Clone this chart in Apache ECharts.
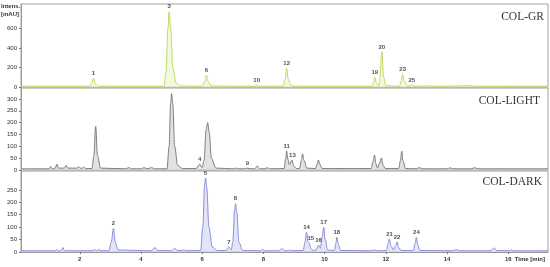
<!DOCTYPE html>
<html><head><meta charset="utf-8">
<script src="https://cdn.jsdelivr.net/npm/echarts@6/dist/echarts.min.js"></script>
<style>html,body{margin:0;padding:0;background:#fff}#c{width:550px;height:267px}</style>
</head><body><div id="c"></div>
<script>
// ---- data ----
const panelNames = ['COL-GR', 'COL-LIGHT', 'COL-DARK'];
const xTicks = [2, 4, 6, 8, 10, 12, 14, 16];
const yTicksGR = [0, 200, 400, 600];
const yTicksLIGHT = [0, 50, 100, 150, 200, 250, 300];
const yTicksDARK = [0, 50, 100, 150, 200, 250];

const traceGR = [[0.08,8],[2.3,8],[2.38,30],[2.45,92],[2.52,30],[2.62,8],
 [4.75,8],[4.82,150],[4.88,600],[4.92,770],[4.97,600],[5.04,200],[5.15,40],[5.3,10],
 [6.0,8],[6.08,50],[6.14,122],[6.2,50],[6.3,10],
 [7.7,8],[7.78,18],[7.86,8],
 [8.65,8],[8.71,80],[8.76,195],[8.81,80],[8.9,15],[9.0,8],
 [11.55,8],[11.6,50],[11.64,100],[11.69,40],[11.76,10],[11.8,60],[11.87,360],[11.93,100],[12.0,12],
 [12.45,8],[12.5,60],[12.55,130],[12.6,60],[12.7,12],
 [12.8,8],[12.85,22],[12.92,8],[13.4,12],[13.5,8],[14.8,12],[14.9,8],[17.3,8]];

const traceLIGHT = [[0.08,5],[1.0,5],[1.05,15],[1.1,5],[1.2,8],[1.25,25],[1.3,8],[1.5,8],[1.55,20],[1.62,8],
 [1.9,8],[1.95,14],[2.02,8],[2.1,8],[2.15,12],[2.2,6],
 [2.4,6],[2.46,60],[2.52,185],[2.58,60],[2.68,8],
 [3.5,5],[3.6,10],[3.7,5],[4.0,5],[4.1,10],[4.2,5],[4.35,10],[4.45,5],
 [4.85,5],[4.92,100],[4.97,280],[5.0,322],[5.04,280],[5.1,100],[5.2,20],[5.35,6],
 [5.8,6],[5.92,25],[6.0,10],[6.06,40],[6.13,170],[6.18,200],[6.23,160],[6.3,50],[6.45,8],
 [7.0,5],[7.1,8],[7.2,5],[7.35,5],[7.48,8],[7.58,5],[7.72,5],[7.8,17],[7.88,5],[8.05,5],[8.12,10],[8.2,5],
 [8.68,6],[8.73,50],[8.76,80],[8.8,45],[8.85,22],[8.93,42],[9.0,15],[9.08,6],
 [9.18,6],[9.24,40],[9.28,68],[9.33,40],[9.42,8],
 [9.7,6],[9.76,25],[9.8,42],[9.84,25],[9.92,6],
 [11.52,6],[11.58,35],[11.63,63],[11.68,25],[11.73,8],[11.8,30],[11.86,51],[11.91,20],[11.98,6],
 [12.42,6],[12.48,40],[12.52,80],[12.56,40],[12.64,6],
 [13.0,5],[13.1,10],[13.2,5],[14.0,5],[14.1,9],[14.2,5],[14.8,5],[14.9,10],[15.0,5],[17.3,5]];

const traceDARK = [[0.08,5],[1.2,5],[1.25,10],[1.3,2],[1.4,8],[1.45,18],[1.5,5],
 [2.4,5],[2.48,10],[2.55,5],[2.62,10],[2.7,5],
 [2.95,5],[3.03,40],[3.1,95],[3.16,40],[3.25,8],
 [4.35,5],[4.45,18],[4.55,6],[5.0,5],[5.1,14],[5.2,6],[5.35,6],[5.4,8],[5.5,5],
 [5.95,6],[6.02,100],[6.08,270],[6.11,298],[6.15,260],[6.22,100],[6.33,20],[6.5,6],
 [6.78,6],[6.87,20],[6.95,8],[7.0,40],[7.06,170],[7.09,195],[7.13,160],[7.2,40],[7.32,6],
 [7.9,5],[7.97,10],[8.05,5],[8.5,5],[8.6,13],[8.7,5],[8.8,5],[8.85,8],[8.9,5],
 [9.3,6],[9.36,40],[9.41,80],[9.46,40],[9.5,35],[9.55,15],[9.62,6],
 [9.72,8],[9.8,28],[9.86,15],[9.92,60],[9.97,100],[10.02,50],[10.1,8],
 [10.32,6],[10.37,35],[10.4,60],[10.44,35],[10.52,6],
 [11.5,5],[11.6,8],[11.7,5],
 [12.02,6],[12.08,35],[12.12,52],[12.17,25],[12.25,8],[12.32,25],[12.37,40],[12.42,18],[12.5,6],
 [12.9,6],[12.96,35],[13.0,60],[13.04,30],[13.12,6],
 [14.2,5],[14.3,10],[14.4,5],[15.4,5],[15.48,10],[15.55,16],[15.62,6],[16.05,5],[16.1,9],[16.15,5],[17.3,5]];

const labelsGR = [[2.45,92,'1'],[4.92,770,'3'],[6.14,122,'6'],[7.78,18,'10'],[8.76,195,'12'],
 [11.64,100,'19'],[11.87,360,'20'],[12.55,130,'23'],[12.85,22,'25']];
const labelsLIGHT = [[5.92,25,'4'],[7.48,8,'9'],[8.76,80,'11'],[8.95,42,'13']];
const labelsDARK = [[3.1,95,'2'],[6.11,298,'5'],[6.87,20,'7'],[7.09,195,'8'],[9.41,80,'14'],
 [9.55,35,'15'],[9.8,28,'16'],[9.97,100,'17'],[10.4,60,'18'],[12.12,52,'21'],[12.37,40,'22'],[13.0,60,'24']];

// ---- chart ----
const chart = echarts.init(document.getElementById('c'), null, {renderer: 'canvas'});
const X_MIN = 0.08, X_MAX = 17.3;
const grids = [
  {left: 21, right: 2, top: 4, height: 83},
  {left: 21, right: 2, top: 88, height: 82},
  {left: 21, right: 2, top: 171, height: 81}
];
const yMax = [850, 346, 326];
const yTicks = [yTicksGR, yTicksLIGHT, yTicksDARK];
const traces = [traceGR, traceLIGHT, traceDARK];
const labels = [labelsGR, labelsLIGHT, labelsDARK];
const lineColors = ['#bcdc5c', '#7d7d7d', '#8a8edc'];
const fillColors = ['#eef6d2', '#d6d6d6', '#d8d9f6'];

const option = {
  animation: false,
  grid: grids.map(g => Object.assign({show: true, borderColor: '#a0a0a0', borderWidth: 1, backgroundColor: 'transparent'}, g)),
  xAxis: grids.map((g, i) => ({
    type: 'value', gridIndex: i, min: X_MIN, max: X_MAX,
    splitLine: {show: false},
    axisLine: {show: i === 2, lineStyle: {color: '#999'}},
    axisTick: {show: i === 2, length: 2, lineStyle: {color: '#777'}, customValues: xTicks},
    axisLabel: {show: i === 2, fontSize: 6, fontWeight: 'bold', color: '#333', margin: 4, customValues: xTicks}
  })),
  yAxis: grids.map((g, i) => ({
    type: 'value', gridIndex: i, min: 0, max: yMax[i],
    splitLine: {show: false},
    axisLine: {show: true, lineStyle: {color: '#999'}},
    axisTick: {show: true, length: 2, lineStyle: {color: '#777'}, customValues: yTicks[i]},
    axisLabel: {fontSize: 6, color: '#333', margin: 4, customValues: yTicks[i]}
  })),
  series: []
};
for (let i = 0; i < 3; i++) {
  option.series.push({
    type: 'line', xAxisIndex: i, yAxisIndex: i, data: traces[i],
    symbol: 'none', smooth: 0.35, smoothMonotone: 'x',
    lineStyle: {color: lineColors[i], width: 1},
    areaStyle: {color: fillColors[i], origin: 'start'},
    z: 2
  });
  option.series.push({
    type: 'scatter', xAxisIndex: i, yAxisIndex: i,
    data: labels[i].map(d => ({value: [d[0], d[1]], name: d[2]})),
    symbolSize: 0, z: 5,
    label: {show: true, position: 'top', distance: 2, formatter: p => p.name,
            fontSize: 6, fontWeight: 'bold', color: '#222'}
  });
}
option.graphic = [
  {type: 'text', left: 1, top: 2, style: {text: 'Intens.\n[mAU]', fontSize: 6, lineHeight: 8, fill: '#333', fontWeight: 'bold'}},
  {type: 'text', right: 6, top: 11, style: {text: panelNames[0], fontSize: 11.5, fontFamily: 'Liberation Serif', fill: '#333'}},
  {type: 'text', right: 10, top: 95, style: {text: panelNames[1], fontSize: 11.5, fontFamily: 'Liberation Serif', fill: '#333'}},
  {type: 'text', right: 8, top: 176, style: {text: panelNames[2], fontSize: 11.5, fontFamily: 'Liberation Serif', fill: '#333'}},
  {type: 'text', right: 5, top: 256, style: {text: 'Time [min]', fontSize: 6, fontWeight: 'bold', fill: '#333'}}
];
chart.setOption(option);
</script></body></html>
